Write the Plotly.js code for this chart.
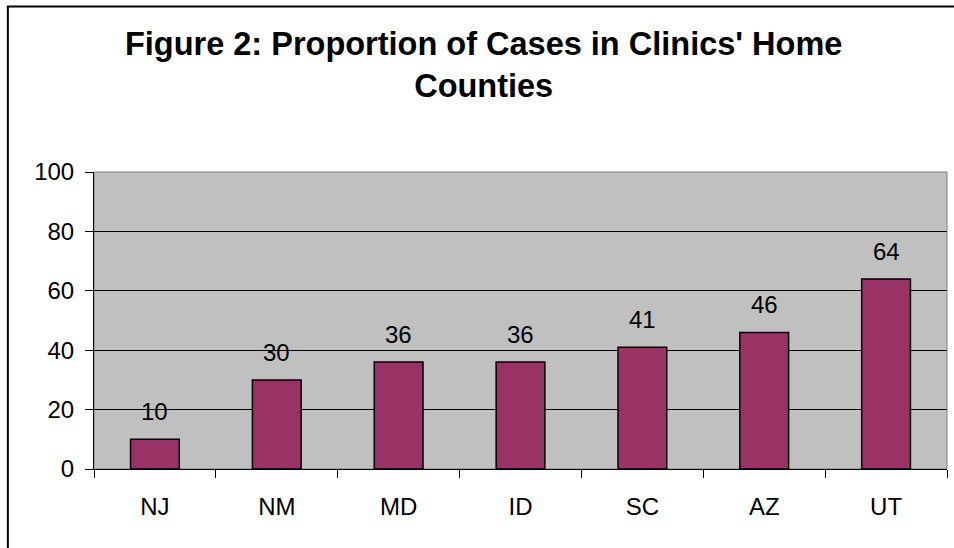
<!DOCTYPE html>
<html>
<head>
<meta charset="utf-8">
<script src="https://cdn.plot.ly/plotly-3.0.1.min.js"></script>
<style>html,body{margin:0;padding:0;background:#fff;}#chart{width:954px;height:548px;}</style>
</head>
<body>
<div id="chart"></div>
<script>
const states = ["NJ", "NM", "MD", "ID", "SC", "AZ", "UT"];
const proportions = [10, 30, 36, 36, 41, 46, 64];
const yTicks = [0, 20, 40, 60, 80, 100];

const FONT = "Liberation Sans, Arial, sans-serif";

const trace = {
  type: "bar",
  x: states,
  y: proportions,
  marker: { color: "#993366", line: { color: "#000000", width: 1.5 } },
  width: 0.4,
  hoverinfo: "x+y"
};

const labels = states.map((s, i) => ({
  x: s, y: proportions[i], xref: "x", yref: "y",
  text: String(proportions[i]), showarrow: false,
  yanchor: "bottom", yshift: 12,
  font: { family: FONT, size: 24, color: "#000" }
}));

const layout = {
  width: 954, height: 548,
  margin: { l: 94, r: 7, t: 172, b: 79 },
  paper_bgcolor: "#ffffff",
  plot_bgcolor: "#c0c0c0",
  showlegend: false,
  title: {
    text: "<b>Figure 2: Proportion of Cases in Clinics' Home<br>Counties</b>",
    font: { family: FONT, size: 32.5, color: "#000" },
    x: 0.507, xref: "container", xanchor: "center",
    y: 0.9, yref: "container", yanchor: "bottom"
  },
  xaxis: {
    type: "category",
    tickson: "boundaries",
    ticks: "outside", ticklen: 8, tickcolor: "#000", tickwidth: 1,
    ticklabelstandoff: 16,
    showline: true, linecolor: "#000", linewidth: 1,
    showgrid: false,
    tickfont: { family: FONT, size: 24, color: "#000" },
    fixedrange: true
  },
  yaxis: {
    range: [0, 100],
    tickvals: yTicks,
    ticks: "outside", ticklen: 8, tickcolor: "#000", tickwidth: 1,
    ticklabelstandoff: 6,
    showline: true, linecolor: "#000", linewidth: 1,
    showgrid: true, gridcolor: "#000", gridwidth: 1,
    zeroline: false,
    tickfont: { family: FONT, size: 24, color: "#000" },
    fixedrange: true
  },
  annotations: labels,
  shapes: [
    { type: "rect", xref: "paper", yref: "paper", x0: 0, x1: 1, y0: 0, y1: 1,
      line: { color: "#808080", width: 1 }, layer: "below" },
    { type: "rect", xref: "paper", yref: "paper",
      x0: -0.101, x1: 1.02, y0: -0.35, y1: 1.557,
      line: { color: "#000", width: 2 }, layer: "above" }
  ]
};

Plotly.newPlot("chart", [trace], layout, { displayModeBar: false, staticPlot: true });
</script>
</body>
</html>
